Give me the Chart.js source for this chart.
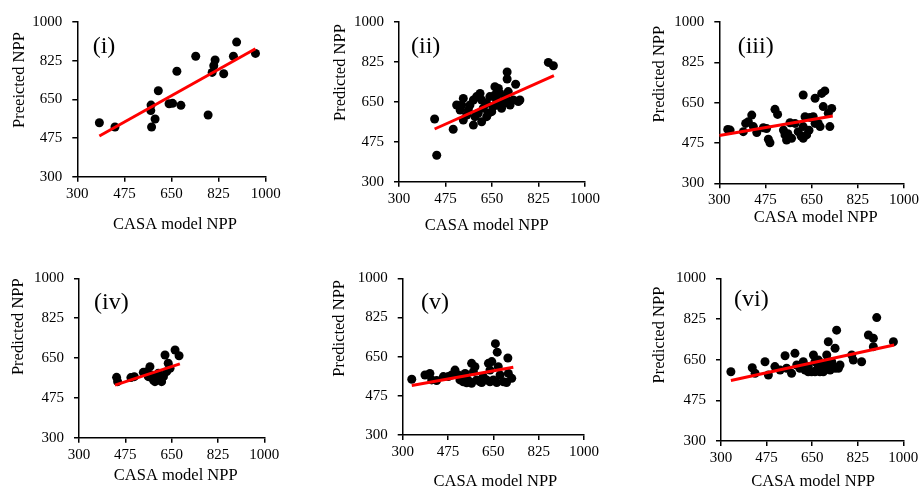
<!DOCTYPE html>
<html><head><meta charset="utf-8">
<script src="https://cdn.jsdelivr.net/npm/chart.js@4.4.1/dist/chart.umd.min.js"></script>
<style>
html,body{margin:0;padding:0;background:#fff;overflow:hidden}
#wrap{position:relative;width:921px;height:489px;overflow:hidden;background:#fff}
#wrap .cell{position:absolute}
</style></head><body><div id="wrap"></div>
<script>
// ---- data ----
const panelLabels = ['(i)', '(ii)', '(iii)', '(iv)', '(v)', '(vi)'];
const xAxisTitle = 'CASA model NPP';
const yAxisTitles = ['Preeicted NPP', 'Predicted NPP', 'Predicted NPP', 'Predicted NPP', 'Predicted NPP', 'Predicted NPP'];
const axisTicks = [300, 475, 650, 825, 1000];

const casa1 = [382, 440, 573, 574, 576, 589, 601, 641, 654, 685, 670, 740, 786, 801, 807, 812, 844, 880, 892, 962];
const pred1 = [544, 525, 599, 624, 525, 561, 689, 630, 632, 623, 777, 845, 579, 772, 802, 828, 766, 845, 909, 858];
const trendX1 = [382, 962], trendY1 = [484, 879];

const casa2 = [434, 442, 504, 862, 881, 707, 707, 739, 661, 674, 517, 542, 542, 561, 580, 580, 598, 605, 611, 630, 636, 642, 655, 667, 680, 693, 699, 711, 718, 730, 749, 755, 530, 555, 567, 586, 617, 649, 674, 705, 611, 592, 536, 630, 686, 661];
const pred2 = [575, 416, 530, 823, 808, 781, 750, 727, 716, 709, 636, 665, 570, 614, 658, 548, 600, 687, 563, 643, 600, 673, 629, 658, 687, 643, 673, 695, 636, 658, 651, 658, 614, 592, 636, 585, 622, 607, 636, 658, 658, 673, 636, 585, 622, 680];
const trendX2 = [434, 883], trendY2 = [531, 765];

const casa3 = [332, 341, 391, 400, 410, 423, 429, 442, 467, 479, 486, 492, 511, 521, 543, 549, 555, 568, 574, 587, 599, 618, 618, 625, 631, 644, 656, 663, 618, 663, 688, 700, 694, 713, 719, 726, 682, 560, 640, 610, 675];
const pred3 = [534, 531, 524, 560, 567, 596, 546, 520, 541, 538, 491, 476, 621, 599, 531, 510, 488, 563, 495, 560, 524, 546, 495, 589, 510, 586, 589, 560, 683, 669, 690, 701, 633, 604, 546, 625, 546, 515, 530, 505, 560];
const trendX3 = [300, 730], trendY3 = [507, 592];

const casa4 = [442, 446, 496, 509, 543, 556, 568, 574, 581, 587, 600, 606, 612, 619, 625, 631, 637, 644, 663, 678, 562, 593];
const pred4 = [565, 546, 564, 568, 587, 590, 612, 575, 553, 546, 583, 568, 546, 568, 663, 590, 627, 605, 685, 660, 568, 561];
const trendX4 = [436, 681], trendY4 = [531, 624];

const casa5 = [335, 386, 405, 412, 431, 457, 476, 489, 502, 515, 521, 534, 541, 547, 560, 566, 573, 579, 586, 599, 611, 624, 631, 637, 644, 650, 658, 665, 669, 676, 689, 706, 708, 721, 547, 566, 605, 637, 663, 701];
const pred5 = [549, 568, 575, 546, 543, 561, 561, 568, 590, 568, 546, 538, 575, 553, 538, 620, 583, 605, 546, 538, 561, 546, 620, 590, 628, 546, 708, 670, 605, 568, 538, 644, 575, 553, 533, 531, 534, 538, 534, 534];
const trendX5 = [335, 727], trendY5 = [521, 603];

const casa6 = [338, 420, 431, 469, 482, 507, 527, 546, 552, 571, 584, 591, 603, 616, 623, 635, 648, 655, 661, 667, 674, 680, 687, 693, 699, 706, 712, 719, 725, 731, 738, 744, 751, 757, 802, 808, 840, 866, 885, 885, 898, 962, 635, 661, 687, 712, 738, 699, 674];
const pred6 = [598, 615, 591, 641, 584, 620, 605, 667, 613, 591, 677, 627, 613, 641, 605, 620, 598, 670, 641, 605, 620, 598, 634, 598, 613, 670, 727, 605, 641, 620, 699, 777, 613, 627, 670, 648, 641, 756, 742, 706, 831, 727, 598, 598, 613, 620, 613, 634, 648];
const trendX6 = [338, 965], trendY6 = [560, 713];

const casaSets = [casa1, casa2, casa3, casa4, casa5, casa6];
const predSets = [pred1, pred2, pred3, pred4, pred5, pred6];
const trendXs = [trendX1, trendX2, trendX3, trendX4, trendX5, trendX6];
const trendYs = [trendY1, trendY2, trendY3, trendY4, trendY5, trendY6];

// ---- layout (plot-area geometry in page pixels, text offsets) ----
const layout = [
  {L: 77.3, R: 265.7, T: 22,    B: 176.7, lab: [15.4, 24.3], xt: [3.5, 48.4],  yt: [-57.9, -19.3]},
  {L: 399,  R: 585,   T: 22,    B: 181.7, lab: [12, 24.3],   xt: [-5.3, 44.4], yt: [-57.9, -29.3]},
  {L: 719.3,R: 904,   T: 22,    B: 183.3, lab: [18.4, 24.3], xt: [4.1, 34.4],  yt: [-59.9, -28.5]},
  {L: 79,   R: 264.3, T: 278.3, B: 437.7, lab: [15, 24.7],   xt: [4.1, 37.7],  yt: [-60.6, -31.3]},
  {L: 402.7,R: 584,   T: 278.3, B: 435,   lab: [18.3, 24.7], xt: [2, 46.4],    yt: [-63.3, -28.3]},
  {L: 721,  R: 903.3, T: 278.3, B: 441,   lab: [13, 21.4],   xt: [1, 41],      yt: [-61.6, -24.6]}
];

const SERIF = '"Liberation Serif", "Times New Roman", serif';
Chart.defaults.font.family = SERIF;
Chart.defaults.color = '#000';

const panelText = {
  id: 'panelText',
  afterDraw(chart, args, o) {
    const {ctx, chartArea: a} = chart;
    ctx.save();
    ctx.fillStyle = '#000';
    ctx.textBaseline = 'middle';
    ctx.font = '24px ' + SERIF;
    ctx.textAlign = 'left';
    ctx.fillText(o.label, a.left + o.lab[0], a.top + o.lab[1]);
    ctx.font = '16.5px ' + SERIF;
    ctx.textAlign = 'center';
    ctx.fillText(o.xTitle, (a.left + a.right) / 2 + o.xt[0], a.bottom + o.xt[1]);
    ctx.translate(a.left + o.yt[0], (a.top + a.bottom) / 2 + o.yt[1]);
    ctx.rotate(-Math.PI / 2);
    ctx.fillText(o.yTitle, 0, 0);
    ctx.restore();
  }
};

const wrap = document.getElementById('wrap');
layout.forEach((g, i) => {
  const x0 = Math.floor(g.L) - 80, y0 = Math.floor(g.T) - 20;
  const w = Math.ceil(g.R) + 30 - x0, h = Math.ceil(g.B) + 60 - y0;
  const div = document.createElement('div');
  div.className = 'cell';
  div.style.left = x0 + 'px'; div.style.top = y0 + 'px';
  div.style.width = w + 'px'; div.style.height = h + 'px';
  const cv = document.createElement('canvas');
  cv.width = w; cv.height = h;
  div.appendChild(cv);
  wrap.appendChild(div);

  const pts = casaSets[i].map((x, k) => ({x: x, y: predSets[i][k]}));
  const trend = trendXs[i].map((x, k) => ({x: x, y: trendYs[i][k]}));
  const axisCommon = {
    type: 'linear',
    min: axisTicks[0], max: axisTicks[axisTicks.length - 1],
    afterBuildTicks: s => { s.ticks = axisTicks.map(v => ({value: v})); },
    grid: {display: true, drawOnChartArea: false, drawTicks: true, tickLength: 5, color: '#000', lineWidth: 1.5},
    border: {display: true, color: '#000', width: 1.5},
    title: {display: false}
  };
  new Chart(cv, {
    type: 'scatter',
    data: {
      datasets: [
        {data: trend, showLine: true, borderColor: '#ff0000', borderWidth: 3, pointRadius: 0, fill: false, order: 0},
        {data: pts, backgroundColor: '#000', borderColor: '#000', borderWidth: 0, pointRadius: 4.5, order: 1}
      ]
    },
    options: {
      responsive: false, animation: false,
      layout: {padding: {left: 0, top: g.T - y0, right: x0 + w - g.R, bottom: 0}},
      plugins: {
        legend: {display: false}, tooltip: {enabled: false},
        panelText: {label: panelLabels[i], xTitle: xAxisTitle, yTitle: yAxisTitles[i], lab: g.lab, xt: g.xt, yt: g.yt}
      },
      scales: {
        x: Object.assign({}, axisCommon, {
          position: 'bottom',
          afterFit: s => { s.height = y0 + h - g.B; },
          ticks: {font: {size: 15, family: SERIF}, color: '#000', padding: 3, maxRotation: 0, autoSkip: false, callback: v => String(v)}
        }),
        y: Object.assign({}, axisCommon, {
          position: 'left',
          afterFit: s => { s.width = g.L - x0; },
          ticks: {font: {size: 15, family: SERIF}, color: '#000', padding: 10, autoSkip: false, callback: v => String(v)}
        })
      }
    },
    plugins: [panelText]
  });
});
</script>
</body></html>
